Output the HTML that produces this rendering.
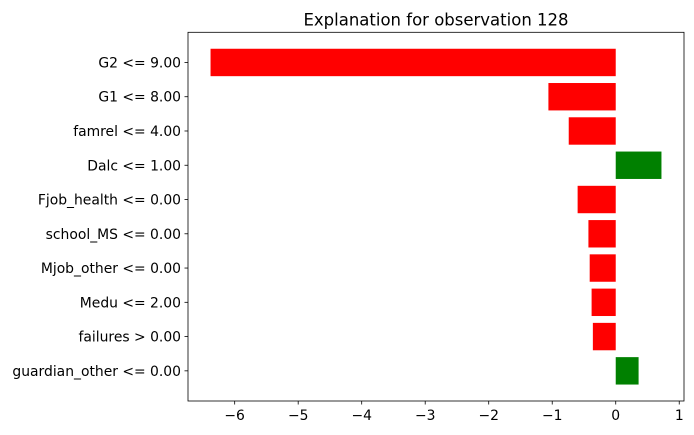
<!DOCTYPE html>
<html><head><meta charset="utf-8"><style>body{margin:0;background:#fff}svg{display:block;font-family:"DejaVu Sans","Liberation Sans",sans-serif}</style></head>
<body>
<svg id="c" width="694" height="435"></svg>
<script>
const labels=["G2 <= 9.00","G1 <= 8.00","famrel <= 4.00","Dalc <= 1.00","Fjob_health <= 0.00","school_MS <= 0.00","Mjob_other <= 0.00","Medu <= 2.00","failures > 0.00","guardian_other <= 0.00"];
const values=[-6.38,-1.06,-0.74,0.72,-0.60,-0.43,-0.41,-0.38,-0.36,0.36];
const xticks=[-6,-5,-4,-3,-2,-1,0,1];
const NS="http://www.w3.org/2000/svg";
const svg=document.getElementById('c');
const L=188,R=684,T=32.3,B=401;
const mn=Math.min(0,...values),mx=Math.max(0,...values),sp=mx-mn;
const x0=mn-0.05*sp,x1=mx+0.05*sp;
const X=v=>L+(v-x0)/(x1-x0)*(R-L);
const n=labels.length;
const y0=-0.4-0.049*(n-0.2),y1=n-1+0.4+0.049*(n-0.2);
const Y=i=>T+(i-y0)/(y1-y0)*(B-T);
function mk(t,a,txt){const e=document.createElementNS(NS,t);for(const k in a)e.setAttribute(k,a[k]);if(txt!=null)e.textContent=txt;svg.appendChild(e);return e;}
values.forEach((v,i)=>{
 const r=mk('rect',{x:Math.min(X(0),X(v)),y:Y(i)-0.4*(Y(1)-Y(0)),width:Math.abs(X(v)-X(0)),height:0.8*(Y(1)-Y(0)),fill:v<0?'#ff0000':'#008000'});
 
 
 mk('line',{x1:L,x2:L-3.5,y1:Y(i),y2:Y(i),stroke:'#000','stroke-width':0.8});
 const t=mk('text',{x:L-7,y:Y(i)+5,'text-anchor':'end','font-size':13.9},labels[i]);
 
 
});
xticks.forEach(v=>{
 mk('line',{x1:X(v),x2:X(v),y1:B,y2:B+3.5,stroke:'#000','stroke-width':0.8});
 const t=mk('text',{x:X(v),y:B+19,'text-anchor':'middle','font-size':13.9},v<0?'\u2212'+(-v):String(v));
 
 
});
const f=mk('rect',{x:L,y:T,width:R-L,height:B-T,fill:'none',stroke:'#000','stroke-width':0.8});


const ti=mk('text',{x:(L+R)/2,y:T-7,'text-anchor':'middle','font-size':16.5},'Explanation for observation 128');


</script>
</body></html>
